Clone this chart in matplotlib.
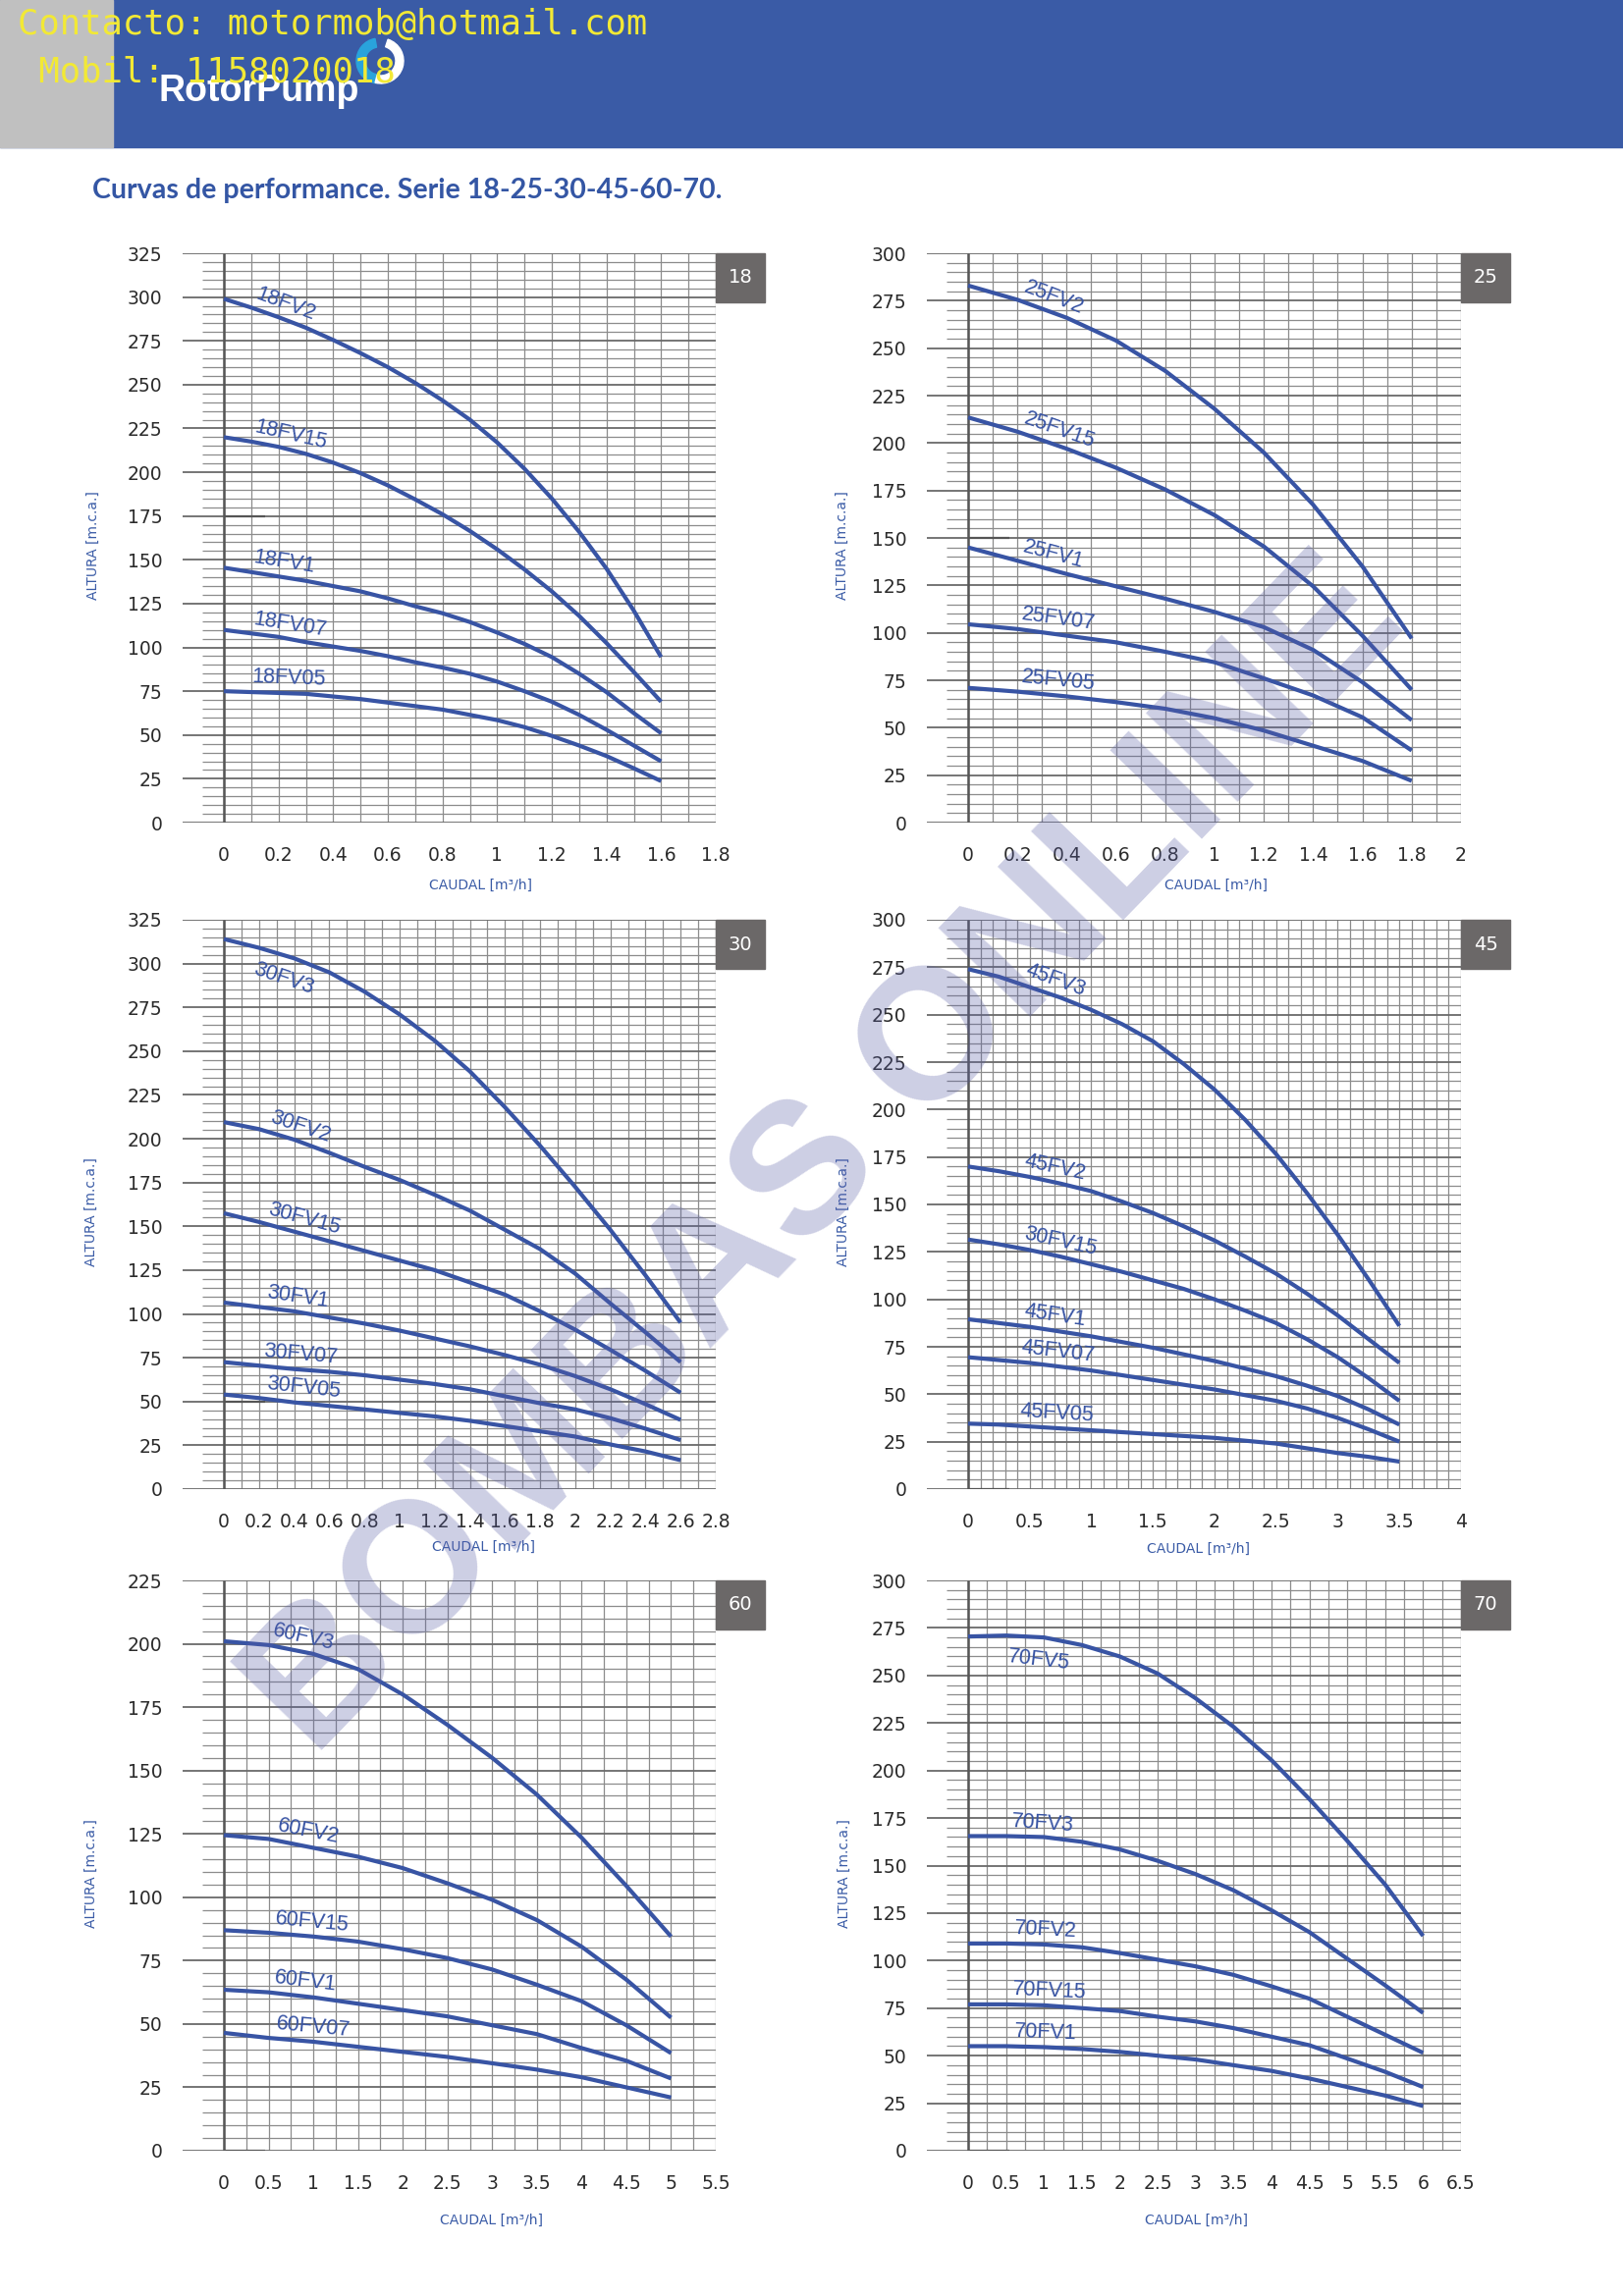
import numpy as np
import matplotlib
matplotlib.use("Agg")
import matplotlib.pyplot as plt
from matplotlib import transforms
from matplotlib.patches import Rectangle, Wedge

# ---- curve data (caudal m3/h, altura m.c.a.) ----
q_18 = [0, 0.1, 0.2, 0.3, 0.4, 0.5, 0.6, 0.7, 0.8, 0.9, 1.0, 1.1, 1.2, 1.3, 1.4, 1.5, 1.6]
names_18 = ["18FV2", "18FV15", "18FV1", "18FV07", "18FV05"]
h_18 = [[299, 294, 288.5, 282.5, 275.5, 268, 260, 251, 241, 230, 217, 202, 185, 166, 145, 121, 94.5],
        [220, 217.5, 214.5, 210.5, 205.5, 199.5, 192.5, 184.5, 176, 166.5, 156, 144.5, 132, 118, 102.5, 86, 69],
        [145.5, 143, 140.5, 138, 135, 132, 128, 123.5, 119.5, 114.5, 108.5, 102, 94.5, 85, 74.5, 62.5, 51],
        [110, 108, 106, 103, 100.5, 98, 95, 91.5, 88.5, 85, 80.5, 75, 69, 61.5, 53, 44, 35],
        [75, 74.5, 74, 73.5, 72, 70.5, 68.5, 66.5, 64.5, 61.5, 58.5, 54.5, 49.5, 44, 38, 31, 23.7]]

q_25 = [0, 0.2, 0.4, 0.6, 0.8, 1.0, 1.2, 1.4, 1.6, 1.8]
names_25 = ["25FV2", "25FV15", "25FV1", "25FV07", "25FV05"]
h_25 = [[283, 275.5, 266, 254, 238, 218, 195, 167.5, 135, 97],
        [213.5, 206, 197, 187, 175.5, 162, 145.5, 124.5, 98.5, 70],
        [145, 138, 131, 124.5, 118, 111, 103, 91, 74, 54],
        [104.5, 102, 98.5, 95, 90, 84.5, 76, 67, 55.5, 38],
        [71, 69, 66.5, 63.5, 60, 55, 48.5, 40.5, 32.5, 22]]

q_30 = [0, 0.2, 0.4, 0.6, 0.8, 1.0, 1.2, 1.4, 1.6, 1.8, 2.0, 2.2, 2.4, 2.6]
names_30 = ["30FV3", "30FV2", "30FV15", "30FV1", "30FV07", "30FV05"]
h_30 = [[314, 309, 303, 295, 284, 271, 256, 238.5, 218, 196, 172.5, 148, 122, 95],
        [209.5, 205.5, 199.5, 192, 184, 176.5, 168, 159, 148, 137, 123, 106, 89.5, 72.5],
        [157.5, 152.5, 147, 141.5, 136, 130.5, 125, 118, 111, 101.5, 91, 79.5, 67.5, 55],
        [106.5, 104, 101.5, 98, 94.5, 90.5, 86, 81.5, 76.5, 71, 64.5, 57, 48.5, 39.5],
        [72.5, 70.5, 68.5, 67, 65, 62.5, 60, 57, 53, 49, 45.5, 40.5, 34.5, 28],
        [54, 52, 49.5, 47.5, 45.5, 43.5, 41.5, 39, 36, 33, 30, 25.5, 21.5, 16.5]]

q_45 = [0, 0.25, 0.5, 0.75, 1.0, 1.25, 1.5, 1.75, 2.0, 2.25, 2.5, 2.75, 3.0, 3.25, 3.5]
names_45 = ["45FV3", "45FV2", "30FV15", "45FV1", "45FV07", "45FV05"]
h_45 = [[274, 270, 264.5, 259, 252.5, 245, 236, 224, 210.5, 194.5, 176.5, 156, 134, 110.5, 86],
        [170, 167.5, 164.5, 161, 157, 151.5, 145.5, 138.5, 131, 122.5, 113.5, 103, 91.5, 79, 66.5],
        [131.5, 129, 126, 122.5, 118.5, 114.5, 110, 105.5, 100, 94, 87.5, 79, 69.5, 58.5, 46.5],
        [89.5, 87.5, 85.5, 83, 80.5, 77.5, 74.5, 71, 67.5, 63.5, 59.5, 54.5, 49, 42, 34],
        [69.5, 68, 66.5, 64.5, 62.5, 60, 57.5, 55, 52.5, 49.5, 46.5, 42.5, 37.5, 31.5, 25],
        [34.5, 34, 33, 32, 31, 30, 29, 28, 27, 25.5, 24, 21.5, 19, 17, 14.5]]

q_60 = [0, 0.5, 1.0, 1.5, 2.0, 2.5, 3.0, 3.5, 4.0, 4.5, 5.0]
names_60 = ["60FV3", "60FV2", "60FV15", "60FV1", "60FV07"]
h_60 = [[201, 199.5, 196, 190, 180, 168, 155, 140.5, 123.5, 104.5, 84.5],
        [124.5, 123, 119.5, 116, 111.5, 105.5, 99, 91, 80.5, 67.5, 52.5],
        [87, 86, 84.5, 82.5, 79.5, 76, 71.5, 65.5, 59, 49.5, 38.5],
        [63.5, 62.5, 60.5, 58, 55.5, 53, 49.5, 46, 40.5, 35.5, 28.5],
        [46.5, 44.5, 43, 41, 39, 37, 34.5, 32, 29, 25, 21]]

q_70 = [0, 0.5, 1.0, 1.5, 2.0, 2.5, 3.0, 3.5, 4.0, 4.5, 5.0, 5.5, 6.0]
names_70 = ["70FV5", "70FV3", "70FV2", "70FV15", "70FV1"]
h_70 = [[270.5, 271, 270, 266, 260, 251, 238, 223, 205.5, 185, 163, 140, 113],
        [165.5, 165.5, 165, 162.5, 158.5, 152.5, 145.5, 137, 126.5, 115, 101, 87, 72.5],
        [109, 109, 108.5, 107, 104, 100.5, 97, 92.5, 86.5, 80, 70.5, 61, 51.5],
        [77, 77, 76.5, 75, 73.5, 70.5, 68, 64.5, 60, 55.5, 48.5, 41.5, 33.5],
        [55, 55, 54.5, 53.5, 52, 50, 48, 45, 42, 38, 33.5, 29, 23.5]]

W, H = 1653, 2339
BLUE = "#3854a4"
HEAD = "#3a5ba6"
GRID = "#8c8c8c"

fig = plt.figure(figsize=(W / 100, H / 100), dpi=100)


def fx(x):
    return x / W


def fy(y):
    return 1 - y / H


# header band
fig.add_artist(Rectangle((0, fy(150)), 1, 150 / H, transform=fig.transFigure,
                         color=HEAD, zorder=0))
fig.add_artist(Rectangle((0, fy(150)), fx(115), 150 / H, transform=fig.transFigure,
                         color="#c0c0c0", zorder=0))
idt = transforms.IdentityTransform()
fig.add_artist(Wedge((386, H - 62), 23, 100, 262, width=9, color="#29a3dc",
                     transform=idt, zorder=1))
fig.add_artist(Wedge((388, H - 62), 23, -105, 72, width=8, color="white",
                     transform=idt, zorder=1))
fig.text(fx(161), fy(103), "RotorPump", color="white", fontsize=27,
         family="Liberation Sans", weight="bold", va="baseline", zorder=2)
fig.text(fx(18), fy(35), "Contacto: motormob@hotmail.com", color="#f2e935",
         fontsize=25.6, family="DejaVu Sans Mono", va="baseline", zorder=3)
fig.text(fx(18), fy(83), " Mobil: 1158020018", color="#f2e935",
         fontsize=25.6, family="DejaVu Sans Mono", va="baseline", zorder=3)
fig.text(fx(94), fy(194), "Curvas de performance. Serie 18-25-30-45-60-70.",
         color="#3456a4", fontsize=20.6, family="Lato", weight="bold", va="center")


def panel(box, q, heads, names, xmax, xstep, xminor, ymax, lab_x, lab_below,
          badge, stub, xlab_x, xlab_y, ylab_x):
    left, x0, right, top, bottom = box
    ax = fig.add_axes([fx(left), fy(bottom), (right - left) / W, (bottom - top) / H])
    ext = xmax * (x0 - left) / (right - x0)
    ax.set_xlim(-ext, xmax)
    ax.set_ylim(0, ymax)
    for s in ax.spines.values():
        s.set_visible(False)

    xs = np.round(np.arange(0, xmax + 1e-9, xminor), 3)
    ax.vlines(xs, 0, ymax, color=GRID, lw=0.9, zorder=1)
    ys = np.arange(0, ymax + 1e-9, 5)
    ax.hlines(ys[ys % 25 != 0], -ext * 22 / 42, xmax, color=GRID, lw=0.9, zorder=1)
    ax.hlines(ys[ys % 25 == 0], -ext, xmax, color="#6a6a6a", lw=1.3, zorder=1)
    ax.vlines([0], 0, ymax, color="#555555", lw=1.8, zorder=1)
    ax.hlines([stub], 0, ext, color="#555555", lw=1.6, zorder=1)

    xt = np.round(np.arange(0, xmax + 1e-9, xstep), 2)
    ax.set_xticks(xt)
    ax.set_xticklabels(["{:g}".format(v) for v in xt])
    yt = np.arange(0, ymax + 1, 25)
    ax.set_yticks(yt)
    ax.set_yticklabels([str(v) for v in yt])
    ax.tick_params(length=0, labelsize=13.5, labelcolor="#2b2b2b")
    ax.tick_params(axis="x", pad=17)
    ax.tick_params(axis="y", pad=15)

    for hh, nm, lx, below in zip(heads, names, lab_x, lab_below):
        ax.plot(q, hh, color=BLUE, lw=3.0, solid_capstyle="butt",
                solid_joinstyle="round", zorder=3)
        dx = 0.12 * xmax
        p1 = ax.transData.transform((lx, np.interp(lx, q, hh)))
        p2 = ax.transData.transform((lx + dx, np.interp(lx + dx, q, hh)))
        ang = np.arctan2(p2[1] - p1[1], p2[0] - p1[0])
        d = -8.0 if below else 3.5
        off = transforms.ScaledTranslation(-np.sin(ang) * d / 72, np.cos(ang) * d / 72,
                                           fig.dpi_scale_trans)
        ax.text(lx, np.interp(lx, q, hh), nm, color=BLUE, fontsize=15.5,
                family="Liberation Sans", rotation=np.degrees(ang),
                rotation_mode="anchor", ha="left",
                va="top" if below else "bottom",
                transform=ax.transData + off, zorder=4)

    fig.add_artist(Rectangle((fx(right), fy(top + 50)), 50 / W, 50 / H,
                             transform=fig.transFigure, color="#6b6868"))
    fig.text(fx(right + 25), fy(top + 25), badge, color="white", fontsize=14,
             ha="center", va="center")
    fig.text(fx(xlab_x), fy(xlab_y), "CAUDAL [m³/h]", color=HEAD, fontsize=10,
             ha="center", va="center")
    fig.text(fx(ylab_x), fy((top + bottom) / 2 + 8), "ALTURA [m.c.a.]", color=HEAD,
             fontsize=10, rotation=90, ha="center", va="center")


panel((186, 228, 729, 258, 838), q_18, h_18, names_18, 1.8, 0.2, 0.1, 325,
      [0.1] * 5, [False] * 5, "18", 175, 490, 902, 95)
panel((944, 986, 1488, 258, 838), q_25, h_25, names_25, 2.0, 0.2, 0.1, 300,
      [0.21] * 5, [False] * 5, "25", 150, 1239, 902, 858)
panel((186, 228, 729, 937, 1517), q_30, h_30, names_30, 2.8, 0.2, 0.1, 325,
      [0.21, 0.24, 0.235, 0.235, 0.22, 0.235], [True] + [False] * 5, "30", 50,
      492, 1576, 93)
panel((944, 986, 1488, 937, 1517), q_45, h_45, names_45, 4.0, 0.5, 0.1, 300,
      [0.43, 0.43, 0.43, 0.44, 0.42, 0.41], [False] * 6, "45", 0, 1221, 1578, 859)
panel((186, 228, 729, 1610, 2191), q_60, h_60, names_60, 5.5, 0.5, 0.25, 225,
      [0.51, 0.57, 0.56, 0.55, 0.57], [False] * 5, "60", 0, 500, 2262, 93)
panel((944, 986, 1488, 1610, 2191), q_70, h_70, names_70, 6.5, 0.5, 0.25, 300,
      [0.56, 0.56, 0.6, 0.57, 0.6], [True] + [False] * 4, "70", 0, 1219, 2262, 860)

# watermark
fig.text(fx(842), fy(1180), "BOMBAS ONLINE", rotation=46, ha="center", va="center",
         fontsize=136, family="Liberation Sans", weight="bold",
         color=(0.35, 0.37, 0.65), alpha=0.3, zorder=10)

fig.savefig("out.png", dpi=100)
